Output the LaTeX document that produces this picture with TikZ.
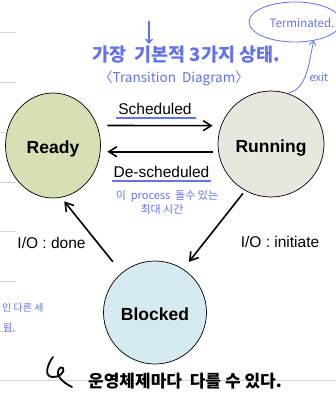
\documentclass[tikz,border=0pt]{standalone}
\usepackage{fontspec}
\setmainfont{Liberation Sans}
\newfontfamily\kr{Noto Sans CJK KR}
\usetikzlibrary{arrows.meta,shapes.geometric,calc}
\definecolor{readyc}{RGB}{213,225,180}
\definecolor{runc}{RGB}{232,230,221}
\definecolor{blkc}{RGB}{214,234,241}
\definecolor{hblue}{RGB}{100,115,235}
\definecolor{rulec}{RGB}{212,212,212}
\begin{document}
\begin{tikzpicture}[x=1pt,y=-1pt,
  state/.style={draw=black,line width=0.7pt,inner sep=0pt,text height=16pt,text depth=0pt,
    font=\bfseries\fontsize{17.5}{20}\selectfont},
  arr/.style={line width=1.6pt,-{Straight Barb[length=8pt,width=10pt]}},
  lbl/.style={inner sep=0pt,anchor=base,font=\fontsize{15.5}{18}\selectfont},
  hand/.style={inner sep=0pt,text=hblue,font=\kr\fontsize{#1}{#1}\selectfont},
  hand/.default=11,
  uline/.style={draw=hblue,line width=2pt},
  harr/.style={draw=hblue,line width=0.8pt,-{Straight Barb[length=4pt,width=7pt]}},
  rulel/.style={draw=rulec,line width=0.6pt}]
\useasboundingbox (0,0) rectangle (336,398);
\clip (0,0) rectangle (336,398);
\fill[white] (0,0) rectangle (336,398);
% ruled lines
\foreach \yy in {32,82,132,182,231,281,331} \draw[rulel] (0,\yy) -- (16,\yy);
\draw[rulel] (0,380) -- (336,380);
% states
\node[state,ellipse,fill=readyc,minimum width=95pt,minimum height=105pt] (ready) at (53,145.5) {Ready};
\node[state,circle,fill=runc,minimum size=106pt] (run) at (271,144) {Running};
\node[state,circle,fill=blkc,minimum size=103pt] (blk) at (155,312.5) {Blocked};
% transitions
\draw[arr] ([shift={(6.5,-20)}]ready.east) -- ([shift={(-5,-18.3)}]run.west);
\draw[arr] ([shift={(-5,7.7)}]run.west) -- ([shift={(6.5,6.2)}]ready.east);
\draw[arr,shorten <=14pt,shorten >=4.8pt] (blk.130) -- (ready.-81);
\draw[arr,shorten <=3.5pt,shorten >=9pt] (run.-119) -- (blk.57.5);
% labels
\node[lbl] (sched) at (155,115) {Scheduled};
\draw[uline] ($(sched.base west)+(-2,3.5)$) -- ($(sched.base east)+(4,3.5)$);
\node[lbl] (desched) at (161.5,177) {De-scheduled};
\draw[uline] ($(desched.base west)+(-1,4)$) -- ($(desched.base east)+(1,4)$);
\node[lbl] (iodone) at (51.5,248) {I/O : done};
\node[lbl] (ioinit) at (280,247) {I/O : initiate};
% handwritten annotations
\node[hand=18,font=\kr\bfseries\fontsize{18.5}{18.5}\selectfont] (title) at (186,55) {가장\ \ 기본적 3가지 상태.};
\coordinate (dtop) at (149,21);
\coordinate (dbot) at (149,44);
\draw[harr,line width=1.3pt] (dtop) -- (dbot);
\node[hand=13.5] (trans) at (174,78) {〈Transition\ \ Diagram〉};
\node[ellipse,draw=hblue,line width=0.8pt,minimum width=92pt,minimum height=40pt,inner sep=0pt] (term) at (295,22) {};
\node[hand=11.5] (termtxt) at (302,23) {Terminated.};
\draw[harr] (run.72) .. controls (307,90) and (309,62) .. (term.-45);
\node[hand=11] (exit) at (319,77) {exit};
\node[hand=11] (proc1) at (167,196) {이\ \ process\ \ 돌수\ 있는};
\node[hand=11] (proc2) at (162,209) {최대\ 시간};
\node[hand=10,anchor=west] (left1) at (2,308) {인 다른\ 세};
\node[hand=10,anchor=west] (left2) at (3,328) {됨.};
\node[inner sep=0pt,font=\kr\bfseries\fontsize{17}{17}\selectfont] (bottom) at (185,381) {운영체제마다\ \ 다를 수 있다.};
\draw[line width=1.8pt,line cap=round,line join=round]
  (53,357) .. controls (47,365) and (44,376) .. (52,377)
  .. controls (58,378) and (66,372) .. (63,368)
  .. controls (60,365) and (55,372) .. (60,378)
  .. controls (63,382) and (68,385) .. (72,387);
\end{tikzpicture}
\end{document}
